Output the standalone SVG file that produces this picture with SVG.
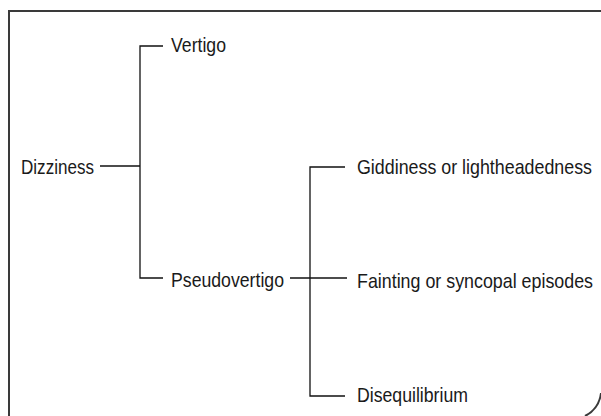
<svg xmlns="http://www.w3.org/2000/svg" width="601" height="416" viewBox="0 0 601 416">
<style>
.t{font-family:"Liberation Sans",Arial,sans-serif;font-size:18px;fill:#1a1a1a}
.c{stroke:#111;stroke-width:1.3;fill:none}
.f{stroke:#3a3a3a;stroke-width:2;fill:none}
</style>
<rect width="601" height="416" fill="#fff"/>
<g id="frame">
<path class="f" d="M9,416 V11 H601"/>
<path class="f" d="M601,393 A 30 30 0 0 1 585,416"/>
</g>
<g id="connectors">
<path class="c" d="M100,166 H140"/>
<path class="c" d="M163,46 H140 V278 H163"/>
<path class="c" d="M290,278 H347"/>
<path class="c" d="M345,167 H310 V396 H345"/>
</g>
<g id="dizziness" transform="translate(21,174) scale(1,1.08)"><text class="t" textLength="73" lengthAdjust="spacingAndGlyphs">Dizziness</text></g>
<g id="vertigo" transform="translate(171,52) scale(1,1.08)"><text class="t" textLength="55" lengthAdjust="spacingAndGlyphs">Vertigo</text></g>
<g id="pseudovertigo" transform="translate(171,287) scale(1,1.08)"><text class="t" textLength="113" lengthAdjust="spacingAndGlyphs">Pseudovertigo</text></g>
<g id="giddiness" transform="translate(357,174) scale(1,1.08)"><text class="t" textLength="235" lengthAdjust="spacingAndGlyphs">Giddiness or lightheadedness</text></g>
<g id="fainting" transform="translate(357,288) scale(1,1.08)"><text class="t" textLength="236" lengthAdjust="spacingAndGlyphs">Fainting or syncopal episodes</text></g>
<g id="disequilibrium" transform="translate(357,402) scale(1,1.08)"><text class="t" textLength="111" lengthAdjust="spacingAndGlyphs">Disequilibrium</text></g>
</svg>
